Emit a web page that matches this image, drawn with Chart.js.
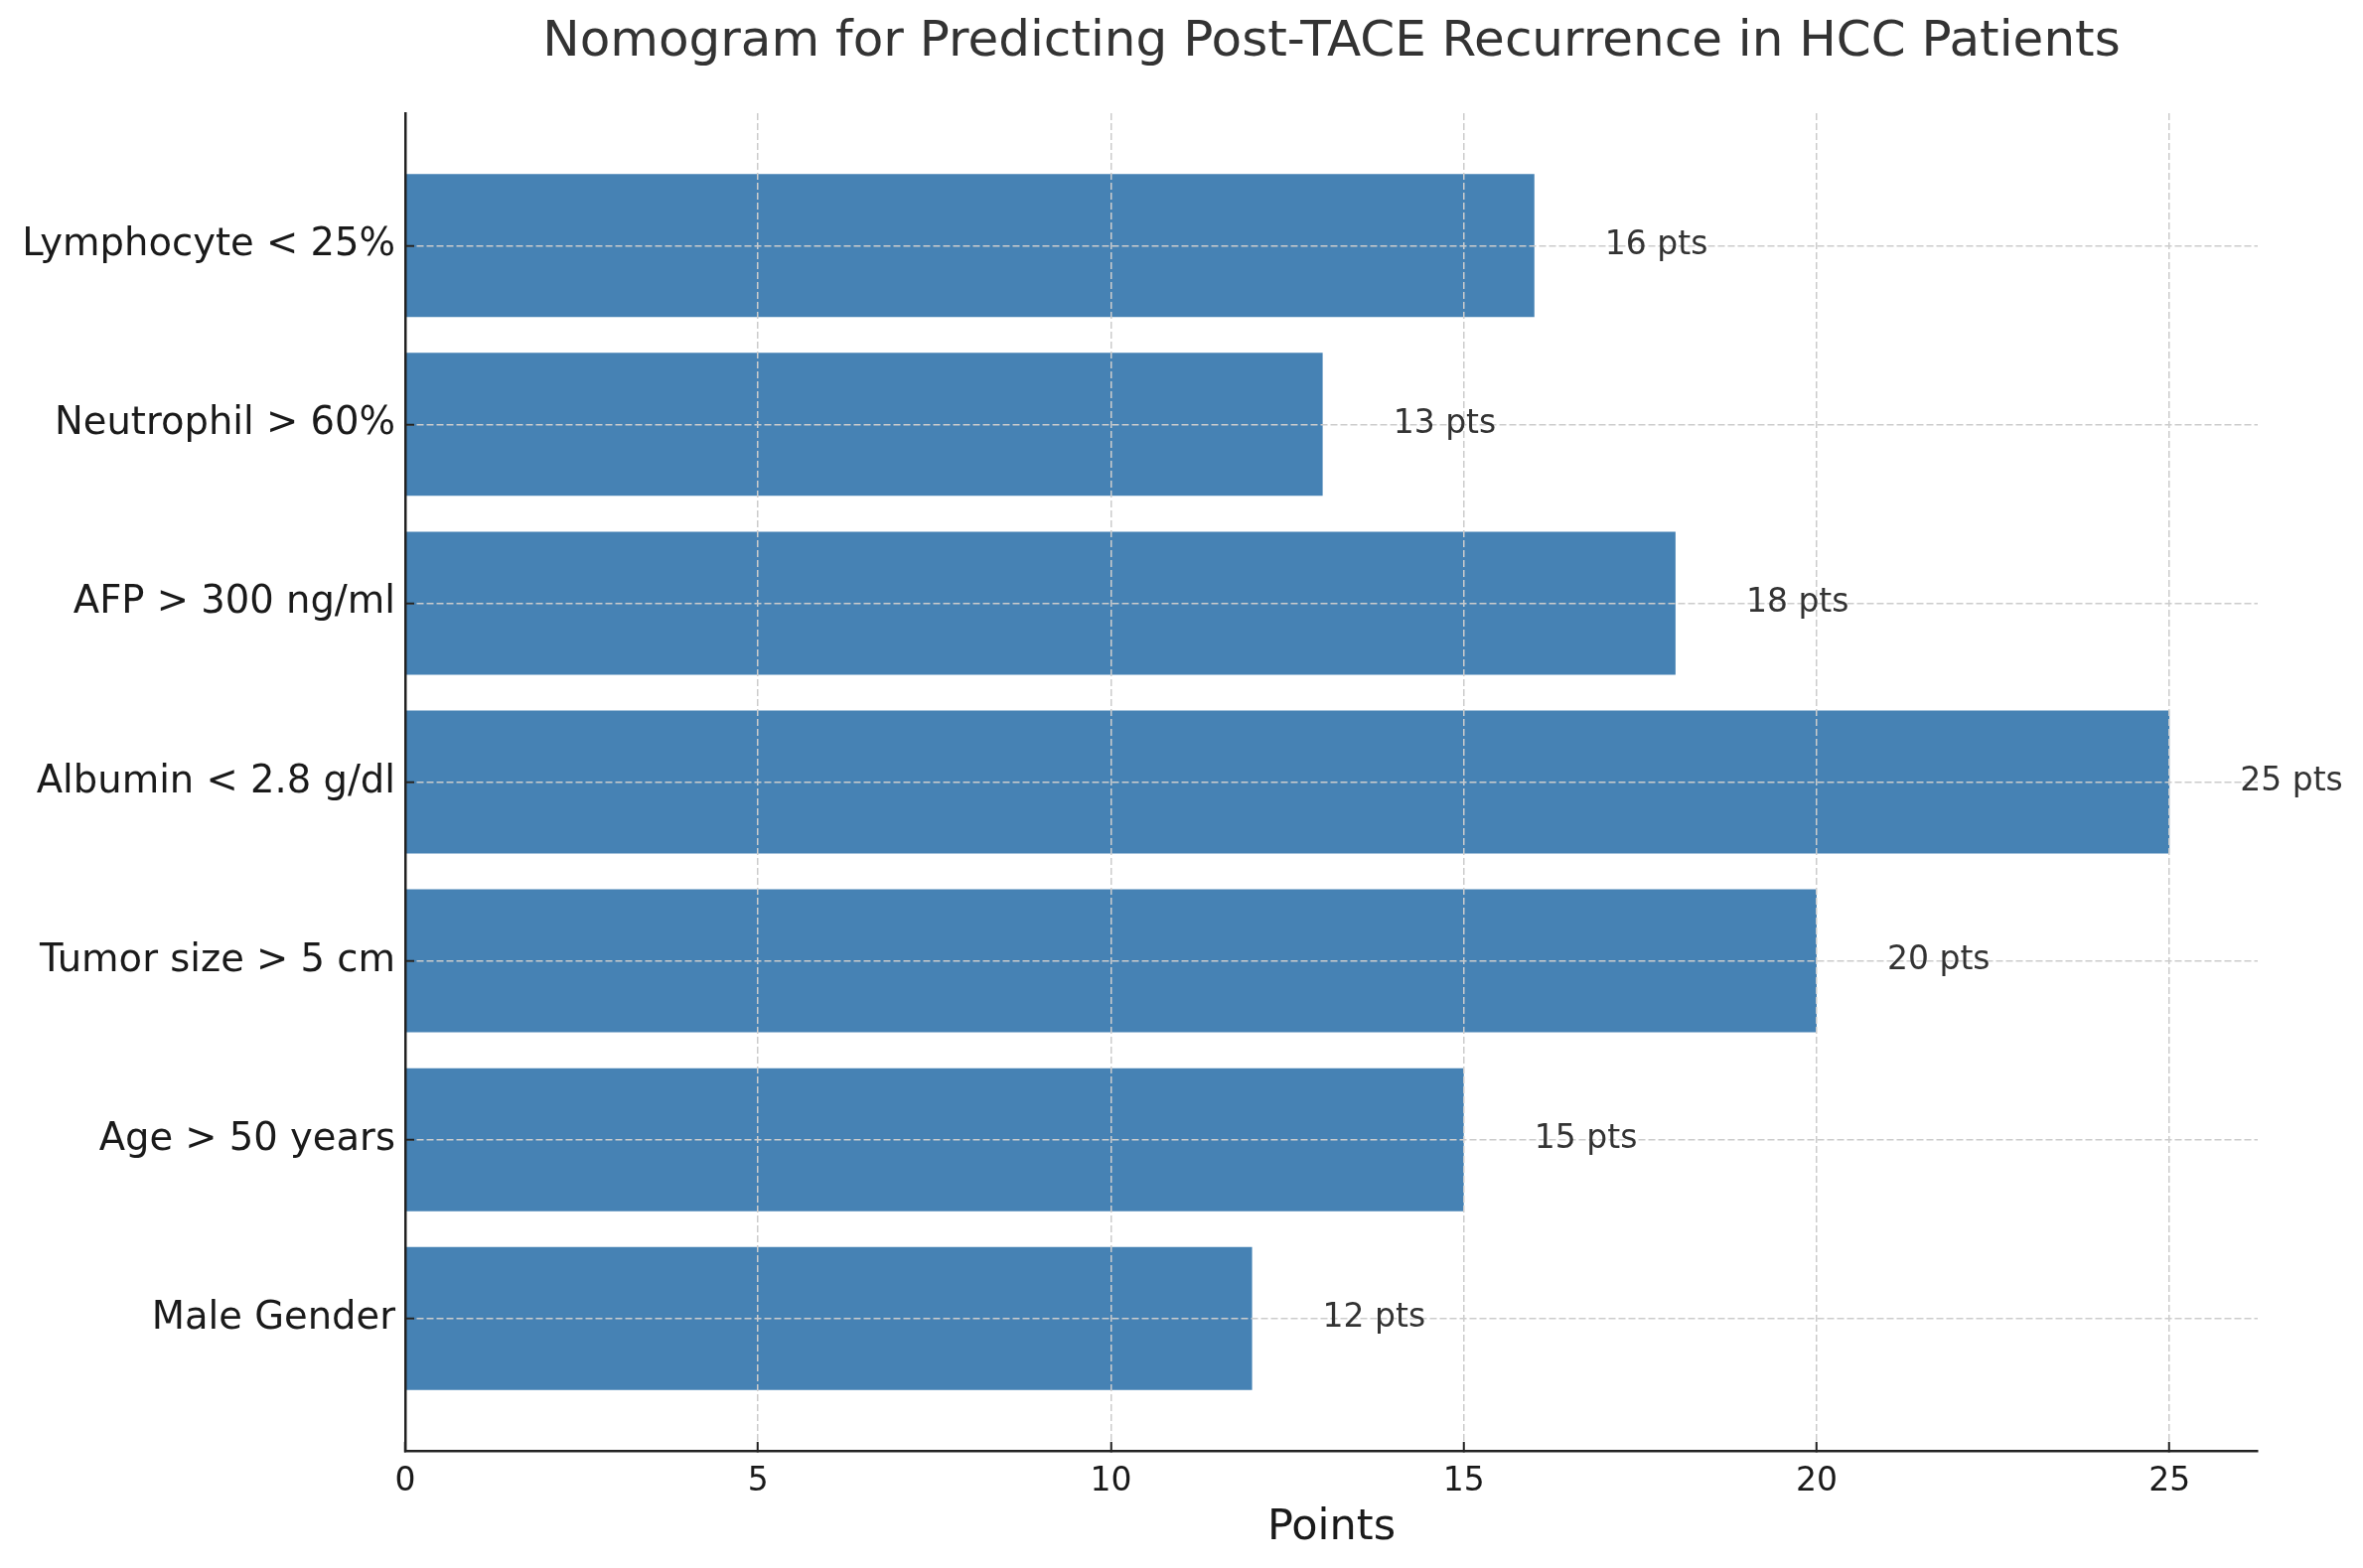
<!DOCTYPE html>
<html>
<head>
<meta charset="utf-8">
<script src="https://cdn.jsdelivr.net/npm/chart.js@4.4.1/dist/chart.umd.min.js"></script>
<style>
  html, body { margin: 0; padding: 0; background: #ffffff; }
  #c { display: block; }
</style>
</head>
<body>
<canvas id="c" width="2379" height="1579"></canvas>
<script>
const chartTitle = 'Nomogram for Predicting Post-TACE Recurrence in HCC Patients';
const xAxisTitle = 'Points';
const categories = ['Male Gender', 'Age > 50 years', 'Tumor size > 5 cm', 'Albumin < 2.8 g/dl', 'AFP > 300 ng/ml', 'Neutrophil > 60%', 'Lymphocyte < 25%'];
const points = [12, 15, 20, 25, 18, 13, 16];
const xTicks = [0, 5, 10, 15, 20, 25];
const labelSuffix = ' pts';

const FONT = 'DejaVu Sans';

const titlePlugin = {
  id: 'customTitle',
  afterDraw(chart) {
    const ctx = chart.ctx;
    const a = chart.chartArea;
    ctx.save();
    ctx.font = `50px "${FONT}"`;
    ctx.fillStyle = '#333333';
    ctx.textAlign = 'center';
    ctx.textBaseline = 'middle';
    ctx.fillText(chartTitle, (a.left + a.right) / 2, 43);
    ctx.restore();
  }
};

const valueLabels = {
  id: 'valueLabels',
  afterDraw(chart) {
    const ctx = chart.ctx;
    const xs = chart.scales.x;
    const meta = chart.getDatasetMeta(0);
    ctx.save();
    ctx.font = `33px "${FONT}"`;
    ctx.fillStyle = '#333333';
    ctx.textAlign = 'left';
    ctx.textBaseline = 'middle';
    meta.data.forEach((bar, i) => {
      ctx.fillText(points[i] + labelSuffix, xs.getPixelForValue(points[i] + 1), bar.y);
    });
    ctx.restore();
  }
};

new Chart(document.getElementById('c'), {
  type: 'bar',
  data: {
    datasets: [{
      data: points.map((v, i) => ({ x: v, y: i })),
      backgroundColor: '#4682B4',
      borderWidth: 0,
      barPercentage: 0.8,
      categoryPercentage: 1.0
    }]
  },
  options: {
    indexAxis: 'y',
    responsive: false,
    animation: false,
    devicePixelRatio: 1,
    layout: { padding: { top: 114, right: 106, left: 0, bottom: 0 } },
    plugins: {
      legend: { display: false },
      tooltip: { enabled: false },
      title: { display: false }
    },
    scales: {
      y: {
        type: 'linear',
        min: -0.74,
        max: 6.74,
        offset: false,
        afterBuildTicks: (axis) => { axis.ticks = categories.map((c, i) => ({ value: i })); },
        afterFit: (scale) => { scale.width = 408; },
        ticks: {
          callback: (v) => categories[v] !== undefined ? categories[v] : '',
          font: { family: FONT, size: 38.5 },
          color: '#1a1a1a',
          padding: 19
        },
        grid: {
          offset: false,
          color: '#cccccc',
          lineWidth: 1.5,
          z: 1,
          drawTicks: true,
          tickLength: -9,
          tickColor: '#222222',
          tickWidth: 2,
          tickBorderDash: []
        },
        border: { display: true, color: '#222222', width: 2.5, dash: [7, 3], z: 2 }
      },
      x: {
        type: 'linear',
        min: 0,
        max: 26.25,
        afterBuildTicks: (axis) => { axis.ticks = xTicks.map(v => ({ value: v })); },
        afterFit: (scale) => { scale.height = 118; },
        ticks: {
          font: { family: FONT, size: 33 },
          color: '#1a1a1a',
          padding: 21
        },
        grid: {
          color: '#cccccc',
          lineWidth: 1.5,
          z: 1,
          drawTicks: true,
          tickLength: -9,
          tickColor: '#222222',
          tickWidth: 2,
          tickBorderDash: []
        },
        border: { display: true, color: '#222222', width: 2.5, dash: [7, 3], z: 2 },
        title: {
          display: true,
          text: xAxisTitle,
          font: { family: FONT, size: 43 },
          color: '#1a1a1a',
          padding: { top: 0, bottom: 14 }
        }
      }
    }
  },
  plugins: [titlePlugin, valueLabels]
});
</script>
</body>
</html>
